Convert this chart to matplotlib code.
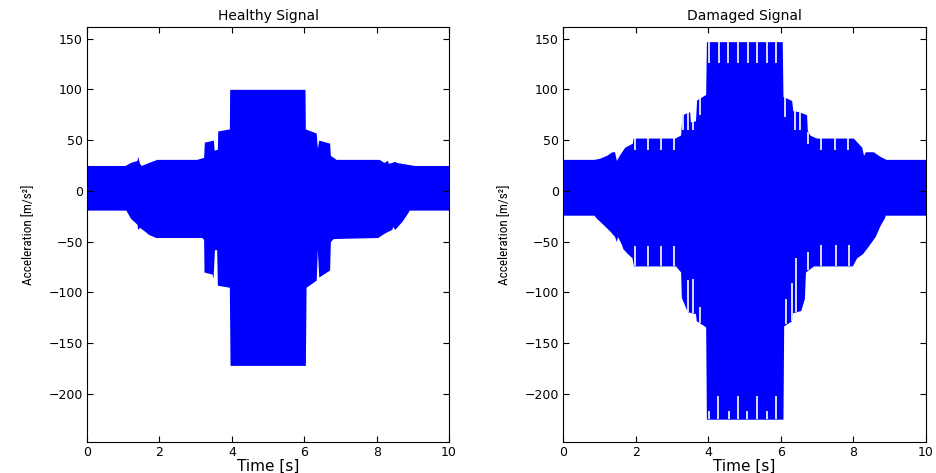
import numpy as np
import matplotlib
matplotlib.use('Agg')
from matplotlib import pyplot as plt
from matplotlib import font_manager

# envelope of the healthy signal (time [s], acceleration [m/s^2])
h_up_t = [0, 0.01, 1.05, 1.2, 1.38, 1.40, 1.45, 1.5, 1.7, 1.93, 3.03, 3.22, 3.24, 3.49, 3.51, 3.60, 3.61,
          3.93, 3.94, 6.02, 6.03, 6.33, 6.36, 6.40, 6.70, 6.72, 6.88, 8.07, 8.2, 8.3, 8.32, 8.5, 8.55, 8.7,
          9.04, 10]
h_up = [45, 25, 25, 28, 30, 34, 27, 25, 28, 31, 31, 33, 48, 50, 40, 41, 59,
        61, 100, 100, 61, 57, 42, 50, 47, 35, 31, 31, 28, 30, 27, 29, 28, 27,
        25, 25]
h_lo_t = [0, 0.01, 1.07, 1.12, 1.2, 1.38, 1.40, 1.45, 1.6, 1.7, 1.9, 3.17, 3.22, 3.23, 3.45, 3.48, 3.52,
          3.58, 3.60, 3.93, 3.95, 6.03, 6.05, 6.33, 6.36, 6.40, 6.70, 6.72, 6.80, 8.03, 8.15, 8.3, 8.42,
          8.44, 8.5, 8.7, 8.85, 8.9, 10]
h_lo = [-40, -19, -19, -22, -27, -33, -38, -36, -40, -43, -46, -46, -48, -80, -82, -86, -58,
        -58, -93, -95, -172, -172, -95, -88, -58, -85, -78, -50, -47, -46, -43, -40, -38,
        -35, -38, -30, -22, -19, -19]

# envelope of the damaged signal
d_up_t = [0, 0.01, 0.85, 1.0, 1.2, 1.35, 1.42, 1.47, 1.55, 1.7, 1.91, 1.93, 3.08, 3.24, 3.28, 3.49, 3.51,
          3.65, 3.68, 3.93, 3.95, 6.04, 6.06, 6.30, 6.33, 6.50, 6.71, 6.73, 6.80, 6.98, 8.0, 8.23, 8.28,
          8.33, 8.55, 8.73, 8.9, 10]
d_up = [45, 31, 31, 32, 35, 38.5, 38.5, 30, 35, 43, 47, 52, 52, 55, 75, 78, 68,
        69, 89.5, 95, 147, 147, 93, 89, 79, 78, 75, 60, 55, 52, 52, 43, 35,
        38.5, 38.5, 34, 31, 31]
d_lo_t = [0, 0.01, 0.85, 0.92, 1.1, 1.3, 1.42, 1.47, 1.5, 1.6, 1.65, 1.75, 1.9, 1.94, 3.1, 3.24, 3.26,
          3.4, 3.42, 3.65, 3.67, 3.93, 3.95, 6.06, 6.08, 6.30, 6.33, 6.55, 6.65, 6.68, 6.9, 7.97, 8.09,
          8.25, 8.4, 8.5, 8.6, 8.75, 8.85, 8.88, 10]
d_lo = [-40, -24, -24, -27, -33, -40, -45, -50, -45, -52, -57, -61, -66, -74, -74, -80, -105,
        -117, -119, -121, -128, -134, -225, -225, -133, -128, -120, -118, -106, -80, -74, -74, -66,
        -62, -55, -50, -45, -33, -27, -24, -24]

# white gaps in the damaged signal: time, from, to
gap_t = [1.99, 2.34, 2.71, 3.06, 3.31, 3.45, 3.57, 3.77,
         4.02, 4.30, 4.55, 4.83, 5.10, 5.35, 5.61, 5.86,
         6.11, 6.39, 6.53, 6.76, 7.10, 7.49, 7.86]
gap_up_lo = [40, 40, 40, 40, 60, 60, 60, 75,
             125.6, 125.6, 125.6, 125.6, 125.6, 125.6, 125.6, 125.6,
             73, 60, 60, 46, 40, 40, 40]
gapl_t = [1.98, 2.35, 2.71, 3.07, 3.45, 3.57, 3.77,
          4.03, 4.28, 4.56, 4.81, 5.08, 5.35, 5.61, 5.86,
          6.14, 6.30, 6.42, 6.76, 7.10, 7.51, 7.88]
gapl_hi = [-54, -54, -54, -54, -88, -87, -114,
           -217, -202, -217, -202, -217, -202, -217, -202,
           -107, -91, -66, -60, -53, -53, -53]

ylim = (-247.5, 161.7)
blue = '#0000ff'

# narrow font for the y label if one is around
installed = {f.name for f in font_manager.fontManager.ttflist}
ylab_font = ('DejaVu Sans', 7.5)
for name, size in [('Roboto Condensed', 9.5), ('DejaVu Sans Condensed', 8.5),
                   ('Liberation Sans Narrow', 10)]:
    if name in installed:
        ylab_font = (name, size)
        break

fig = plt.figure(figsize=(9.36, 4.73), dpi=100)
ax1 = fig.add_axes([0.093, 0.0655, 0.3868, 0.878])
ax2 = fig.add_axes([0.6015, 0.0655, 0.3878, 0.878])

def envelope(ax, ut, u, lt, l):
    ax.fill_between(ut, 0, u, color=blue, lw=0)
    ax.fill_between(lt, l, 0, color=blue, lw=0)
    ax.fill_between([0, 10], -5, 5, color=blue, lw=0)

envelope(ax1, h_up_t, h_up, h_lo_t, h_lo)
envelope(ax2, d_up_t, d_up, d_lo_t, d_lo)

d_up_at = np.interp(gap_t, d_up_t, d_up)
ax2.vlines(gap_t, gap_up_lo, d_up_at, color='white', lw=1.2)
d_lo_at = np.interp(gapl_t, d_lo_t, d_lo)
ax2.vlines(gapl_t, d_lo_at, gapl_hi, color='white', lw=1.2)

for ax, title in [(ax1, 'Healthy Signal'), (ax2, 'Damaged Signal')]:
    ax.set_xlim(0, 10)
    ax.set_ylim(ylim)
    ax.set_xticks(range(0, 11, 2))
    ax.set_yticks(range(-200, 151, 50))
    ax.tick_params(direction='in', top=True, right=True, length=4, width=0.8,
                   labelsize=9, pad=3)
    for s in ax.spines.values():
        s.set_linewidth(0.8)
    ax.set_title(title, fontsize=10, pad=5)
    ax.set_xlabel('Time [s]', fontsize=11, labelpad=0)
    ax.set_ylabel('Acceleration [m/s²]', fontsize=ylab_font[1], labelpad=10,
                  family=[ylab_font[0], 'DejaVu Sans'])

fig.savefig('out.png', dpi=100)
